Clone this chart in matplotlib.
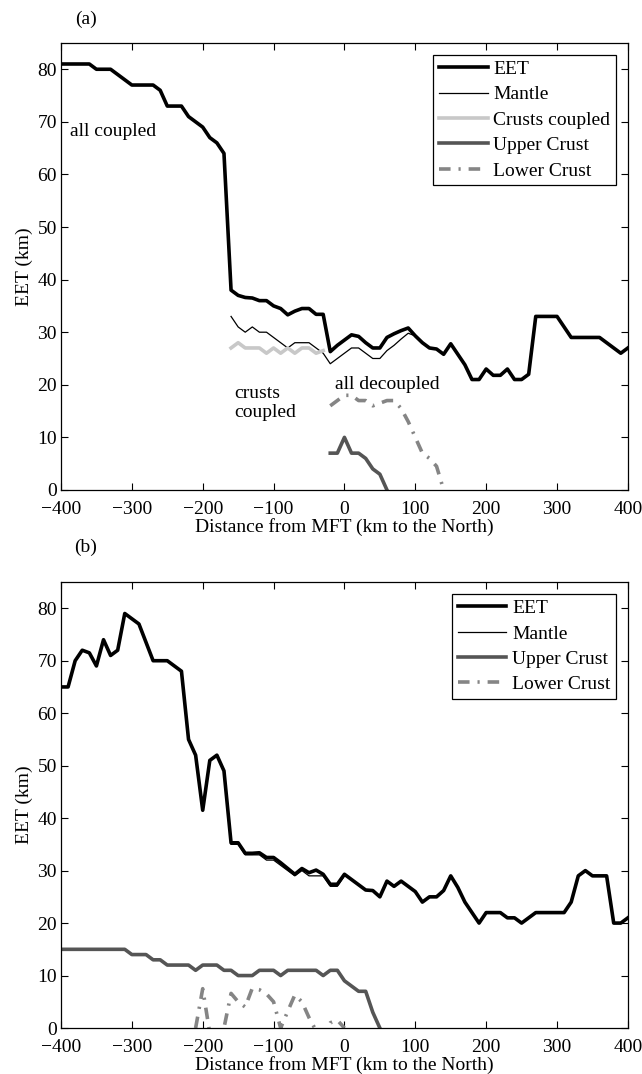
import numpy as np
import matplotlib
matplotlib.use("Agg")
import matplotlib.pyplot as plt

plt.rcParams['font.family'] = ['Liberation Serif', 'DejaVu Serif']
plt.rcParams['font.size'] = 14

# --- panel (a) data ---
eet_a_x = list(range(-400, 401, 10))
eet_a = [81, 81, 81, 81, 81, 80, 80, 80, 79, 78,
         77, 77, 77, 77, 76, 73, 73, 73, 71, 70,
         69, 67, 66, 64, 38, 37, 36.6, 36.5, 36, 36,
         35, 34.5, 33.3, 34, 34.5, 34.5, 33.4, 33.4, 26.3, 27.5,
         28.5, 29.5, 29.2, 28, 27, 27, 29, 29.7, 30.3, 30.8,
         29.3, 28, 27, 26.8, 25.8, 27.8, 25.8, 23.8, 21, 21,
         23, 21.8, 21.8, 23, 21, 21, 22, 33, 33, 33,
         33, 31, 29, 29, 29, 29, 29, 28, 27, 26,
         27]

mantle_a_x = list(range(-160, 101, 10))
mantle_a = [33, 31, 30, 31, 30, 30, 29, 28, 27, 28,
            28, 28, 27, 26, 24, 25, 26, 27, 27, 26,
            25, 25, 26.5, 27.5, 28.7, 29.8, 29.3]

crusts_a_x = list(range(-160, -29, 10))
crusts_a = [27, 28, 27, 27, 27, 26, 27, 26, 27, 26, 27, 27, 26, 26.5]

upper_a_x = list(range(-20, 61, 10))
upper_a = [7, 7, 10, 7, 7, 6, 4, 3, 0]

lower_a_x = list(range(-20, 141, 10))
lower_a = [16, 17, 18, 18, 17, 17, 16, 16.5, 17, 17,
           15.5, 13, 10, 7, 6, 4.5, 0]

# --- panel (b) data ---
eet_b_x = list(range(-400, 401, 10))
eet_b = [65, 65, 70, 72, 71.5, 69, 74, 71, 72, 79,
         78, 77, 73.5, 70, 70, 70, 69, 68, 55, 52,
         41.5, 51, 52, 49, 35.3, 35.3, 33.3, 33.3, 33.4, 32.5,
         32.5, 31.5, 30.4, 29.3, 30.4, 29.6, 30.1, 29.3, 27.4, 27.4,
         29.3, 28.3, 27.3, 26.3, 26.2, 25, 28, 27, 28, 27,
         26, 24, 25, 25, 26.2, 29, 26.8, 24, 22, 20,
         22, 22, 22, 21, 21, 20, 21, 22, 22, 22,
         22, 22, 24, 29, 30, 29, 29, 29, 20, 20,
         21]

mantle_b_x = list(range(-160, 1, 10))
mantle_b = [35, 35, 33, 33, 33, 32, 32, 31, 30, 29,
            30, 29, 29, 29, 27, 27, 29]

upper_b_x = list(range(-400, 51, 10))
upper_b = [15, 15, 15, 15, 15, 15, 15, 15, 15, 15,
           14, 14, 14, 13, 13, 12, 12, 12, 12, 11,
           12, 12, 12, 11, 11, 10, 10, 10, 11, 11,
           11, 10, 11, 11, 11, 11, 11, 10, 11, 11,
           9, 8, 7, 7, 3, 0]

lower_b_x = list(range(-210, 1, 10))
lower_b = [0, 7.5, -1, -3, 0, 6.6, 5, 4, 7.6, 7.3,
           6.5, 5, 0, 3.2, 6.3, 5, 2, -0.5, -1.5, 1,
           1.5, 0]

EET_W = 2.6
THIN_W = 0.9
C_LIGHT = '#c8c8c8'
C_UPPER = '#555555'
C_LOWER = '#858585'
DASHDOT = (0, (3.2, 2.2, 0.6, 2.2))


def style_axes(ax):
    ax.set_xlim(-400, 400)
    ax.set_ylim(0, 85)
    ax.set_xticks(range(-400, 401, 100))
    ax.set_yticks(range(0, 81, 10))
    ax.tick_params(direction='in', top=True, right=True, length=5, width=0.8)
    ax.tick_params(axis='x', pad=8)
    ax.tick_params(axis='y', pad=3)
    for s in ax.spines.values():
        s.set_linewidth(0.9)
    ax.set_xlabel('Distance from MFT (km to the North)', labelpad=0)
    ax.set_ylabel('EET (km)', labelpad=3)


def add_legend(ax):
    leg = ax.legend(loc='upper right', frameon=True, fancybox=False, edgecolor='black',
                    framealpha=1, handlelength=2.5, handletextpad=0.3, borderpad=0.3,
                    labelspacing=0.4, borderaxespad=0.6)
    leg.get_frame().set_linewidth(0.9)
    return leg


fig = plt.figure(figsize=(6.42, 10.74), dpi=100)

# panel (a)
ax1 = fig.add_axes([0.095, 0.5438, 0.883, 0.4162])
ax1.plot(eet_a_x, eet_a, color='black', lw=EET_W, label='EET')
ax1.plot(mantle_a_x, mantle_a, color='black', lw=THIN_W, label='Mantle')
ax1.plot(crusts_a_x, crusts_a, color=C_LIGHT, lw=EET_W, label='Crusts coupled')
ax1.plot(upper_a_x, upper_a, color=C_UPPER, lw=EET_W, label='Upper Crust')
ax1.plot(lower_a_x, lower_a, color=C_LOWER, lw=EET_W, ls=DASHDOT, label='Lower Crust')
style_axes(ax1)
ax1.text(-387, 68.2, 'all coupled', va='center', ha='left')
ax1.text(-155, 16.5, 'crusts\ncoupled', va='center', ha='left', linespacing=1.15)
ax1.text(-14, 20.0, 'all decoupled', va='center', ha='left')
add_legend(ax1)
fig.text(0.134, 0.982, '(a)', ha='center', va='center')

# panel (b)
ax2 = fig.add_axes([0.095, 0.0428, 0.883, 0.4153])
ax2.plot(eet_b_x, eet_b, color='black', lw=EET_W, label='EET')
ax2.plot(mantle_b_x, mantle_b, color='black', lw=THIN_W, label='Mantle')
ax2.plot(upper_b_x, upper_b, color=C_UPPER, lw=EET_W, label='Upper Crust')
ax2.plot(lower_b_x, lower_b, color=C_LOWER, lw=EET_W, ls=DASHDOT, label='Lower Crust')
style_axes(ax2)
add_legend(ax2)
fig.text(0.134, 0.49, '(b)', ha='center', va='center')

fig.savefig('out.png', dpi=100)
